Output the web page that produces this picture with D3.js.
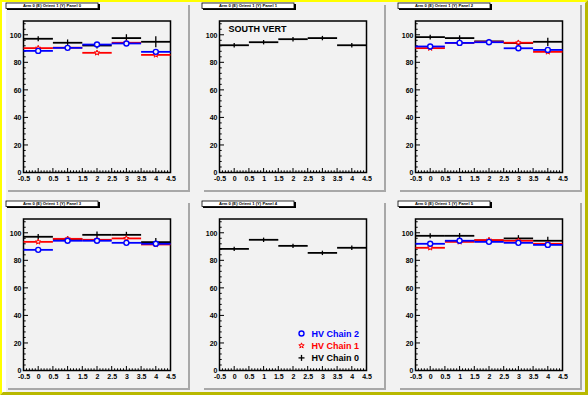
<!DOCTYPE html>
<html>
<head>
<meta charset="utf-8">
<script src="https://cdn.jsdelivr.net/npm/d3@7"></script>
<style>
  body { margin: 0; background: #ffffff; }
  svg text { font-family: "Liberation Sans", Arial, sans-serif; }
</style>
</head>
<body>
<div id="chart"></div>
<script>
var width = 588;
var height = 395;

// bin centres and axis ticks
var bins = [0, 1, 2, 3, 4];
var xTicks = [-0.5, 0, 0.5, 1, 1.5, 2, 2.5, 3, 3.5, 4, 4.5];
var yTicks = [0, 20, 40, 60, 80, 100];

var panelTitles = [
  'Arm 0 (E) Orient 1 (Y) Panel 0',
  'Arm 0 (E) Orient 1 (Y) Panel 1',
  'Arm 0 (E) Orient 1 (Y) Panel 2',
  'Arm 0 (E) Orient 1 (Y) Panel 3',
  'Arm 0 (E) Orient 1 (Y) Panel 4',
  'Arm 0 (E) Orient 1 (Y) Panel 5'
];

// efficiency per panel, per bin
var chain0 = [
  [97.1, 94.2, 92.2, 97.6, 94.9],
  [92.4, 94.6, 96.8, 97.6, 92.4],
  [98.3, 97.6, 95.2, 94.0, 94.9],
  [97.1, 95.5, 98.5, 98.5, 93.2],
  [88.3, 94.9, 90.5, 85.4, 89.1],
  [97.8, 97.8, 94.4, 95.9, 94.2]
];
var chain0Err = [
  [1.8, 2.4, 2.2, 2.8, 4.0],
  [1.6, 1.6, 1.6, 1.6, 1.6],
  [1.8, 2.0, 1.6, 2.2, 3.0],
  [2.0, 2.0, 2.4, 2.2, 3.0],
  [1.6, 1.6, 1.6, 1.6, 1.6],
  [1.8, 2.0, 2.0, 2.4, 3.0]
];
var chain1 = [
  [90.3, 90.6, 86.9, 94.2, 85.4],
  null,
  [90.3, 94.1, 94.9, 94.2, 87.6],
  [93.4, 95.6, 94.9, 95.9, 91.5],
  null,
  [89.1, 93.4, 94.7, 94.2, 92.0]
];
var chain2 = [
  [88.3, 90.5, 92.9, 93.7, 87.6],
  null,
  [91.5, 94.1, 94.6, 90.2, 89.0],
  [87.6, 94.2, 94.2, 92.7, 92.0],
  null,
  [92.0, 94.2, 93.4, 92.7, 91.2]
];
var colorErr = 1.2;

var legendNames = ['HV Chain 2', 'HV Chain 1', 'HV Chain 0'];
var legendColors = ['#0000ff', '#ff0000', '#000000'];

var padW = 182, padH = 187;
var padFill = '#f2f2f2';

var svg = d3.select('#chart').append('svg')
  .attr('width', width)
  .attr('height', height);

// canvas background and bevel
svg.append('rect').attr('width', width).attr('height', height).attr('fill', padFill);
svg.append('path').attr('d', 'M0,395 L0,0 L588,0 L586,2 L2,2 L2,393 Z').attr('fill', '#ffff00');
svg.append('path').attr('d', 'M0,395 L588,395 L588,0 L585,3 L585,392 L3,392 Z').attr('fill', '#b8b800');
svg.append('rect').attr('x', 2).attr('y', 2).attr('width', 4).attr('height', 390).attr('fill', '#ffffff');

var star = d3.symbol().type(d3.symbolStar).size(9);

function drawPanel(p) {
  var col = p % 3, row = Math.floor(p / 3);
  var px = 6 + col * 196, py = 3 + row * 198;
  var g = svg.append('g');

  // pad with shadow
  g.append('rect').attr('x', px + 2).attr('y', py + 2).attr('width', padW).attr('height', padH).attr('fill', '#a8a8a8');
  g.append('rect').attr('x', px).attr('y', py).attr('width', padW).attr('height', padH).attr('fill', padFill);

  var fl = px + 17.5, fr = px + padW - 17.5;
  var ft = py + 18, fb = py + padH - 17.5;

  var x = d3.scaleLinear().domain([-0.5, 4.5]).range([fl, fr]);
  var y = d3.scaleLinear().domain([0, 110]).range([fb, ft]);

  var xAxis = d3.axisBottom(x).tickValues(xTicks).tickSize(0).tickFormat(function (d) { return d; });
  var yAxis = d3.axisLeft(y).tickValues(yTicks).tickSize(0);

  var xa = g.append('g').attr('transform', 'translate(0,' + fb + ')').call(xAxis);
  xa.select('.domain').remove();
  xa.selectAll('text').attr('dy', null).attr('y', 8).attr('font-size', 7).attr('font-weight', 'bold').attr('fill', '#000');
  var ya = g.append('g').attr('transform', 'translate(' + fl + ',0)').call(yAxis);
  ya.select('.domain').remove();
  ya.selectAll('text').attr('x', -2).attr('dy', '0.35em').attr('font-size', 7).attr('font-weight', 'bold').attr('fill', '#000');

  // ticks pointing inward
  var minorX = d3.range(0, 51).map(function (i) { return -0.5 + i * 0.1; });
  g.selectAll('.mx').data(minorX).enter().append('line')
    .attr('x1', function (d) { return x(d); }).attr('x2', function (d) { return x(d); })
    .attr('y1', fb).attr('y2', function (d, i) { return fb - (i % 5 === 0 ? 4.5 : 2.2); })
    .attr('stroke', '#000').attr('stroke-width', 1);
  var minorY = d3.range(0, 28).map(function (i) { return i * 4; });
  g.selectAll('.my').data(minorY).enter().append('line')
    .attr('y1', function (d) { return y(d); }).attr('y2', function (d) { return y(d); })
    .attr('x1', fl).attr('x2', function (d, i) { return fl + (i % 5 === 0 ? 4.5 : 2.2); })
    .attr('stroke', '#000').attr('stroke-width', 1);

  // frame
  g.append('rect').attr('x', fl).attr('y', ft).attr('width', fr - fl).attr('height', fb - ft)
    .attr('fill', 'none').attr('stroke', '#000').attr('stroke-width', 1.5);

  // series: black, then red, then blue
  var series = [
    { vals: chain0[p], errs: chain0Err[p], color: '#000000', marker: null },
    { vals: chain1[p], errs: null, color: '#ff0000', marker: 'star' },
    { vals: chain2[p], errs: null, color: '#0000ff', marker: 'circle' }
  ];
  series.forEach(function (s) {
    if (!s.vals) return;
    var sg = g.append('g');
    bins.forEach(function (b, i) {
      var v = s.vals[i];
      var e = s.errs ? s.errs[i] : colorErr;
      sg.append('line').attr('x1', x(b - 0.5)).attr('x2', x(b + 0.5))
        .attr('y1', y(v)).attr('y2', y(v)).attr('stroke', s.color).attr('stroke-width', 1.8);
      sg.append('line').attr('x1', x(b)).attr('x2', x(b))
        .attr('y1', y(v - e)).attr('y2', y(v + e)).attr('stroke', s.color).attr('stroke-width', 1.3);
      if (s.marker === 'circle') {
        sg.append('circle').attr('cx', x(b)).attr('cy', y(v)).attr('r', 2.5)
          .attr('fill', padFill).attr('stroke', s.color).attr('stroke-width', 1.4);
      } else if (s.marker === 'star') {
        sg.append('path').attr('d', star).attr('transform', 'translate(' + x(b) + ',' + y(v) + ')')
          .attr('fill', padFill).attr('stroke', s.color).attr('stroke-width', 1);
      }
    });
  });

  // title box
  g.append('rect').attr('x', px + 1).attr('y', py + 1).attr('width', 93).attr('height', 6).attr('fill', '#000');
  g.append('rect').attr('x', px).attr('y', py).attr('width', 92).attr('height', 5.5)
    .attr('fill', '#fff').attr('stroke', '#000').attr('stroke-width', 0.8);
  g.append('text').attr('x', px + 46).attr('y', py + 4.4).attr('text-anchor', 'middle')
    .attr('font-size', 4.2).attr('font-weight', 'bold').text(panelTitles[p]);

  if (p === 1) {
    g.append('text').attr('x', px + 26.5).attr('y', py + 28.5)
      .attr('font-size', 9).attr('font-weight', 'bold').text('SOUTH VERT');
  }

  if (p === 4) {
    legendNames.forEach(function (name, i) {
      var ly = py + 132.5 + i * 12.2;
      var lx = px + 99.5;
      if (i === 0) {
        g.append('circle').attr('cx', lx).attr('cy', ly).attr('r', 2.5)
          .attr('fill', 'none').attr('stroke', legendColors[i]).attr('stroke-width', 1.4);
      } else if (i === 1) {
        g.append('path').attr('d', star).attr('transform', 'translate(' + lx + ',' + ly + ')')
          .attr('fill', 'none').attr('stroke', legendColors[i]).attr('stroke-width', 1);
      } else {
        g.append('line').attr('x1', lx - 3).attr('x2', lx + 3).attr('y1', ly).attr('y2', ly).attr('stroke', '#000').attr('stroke-width', 1.3);
        g.append('line').attr('x1', lx).attr('x2', lx).attr('y1', ly - 3).attr('y2', ly + 3).attr('stroke', '#000').attr('stroke-width', 1.3);
      }
      g.append('text').attr('x', lx + 10).attr('y', ly + 3.3)
        .attr('font-size', 9).attr('font-weight', 'bold').attr('fill', legendColors[i]).text(name);
    });
  }
}

for (var p = 0; p < 6; p++) drawPanel(p);
</script>
</body>
</html>
